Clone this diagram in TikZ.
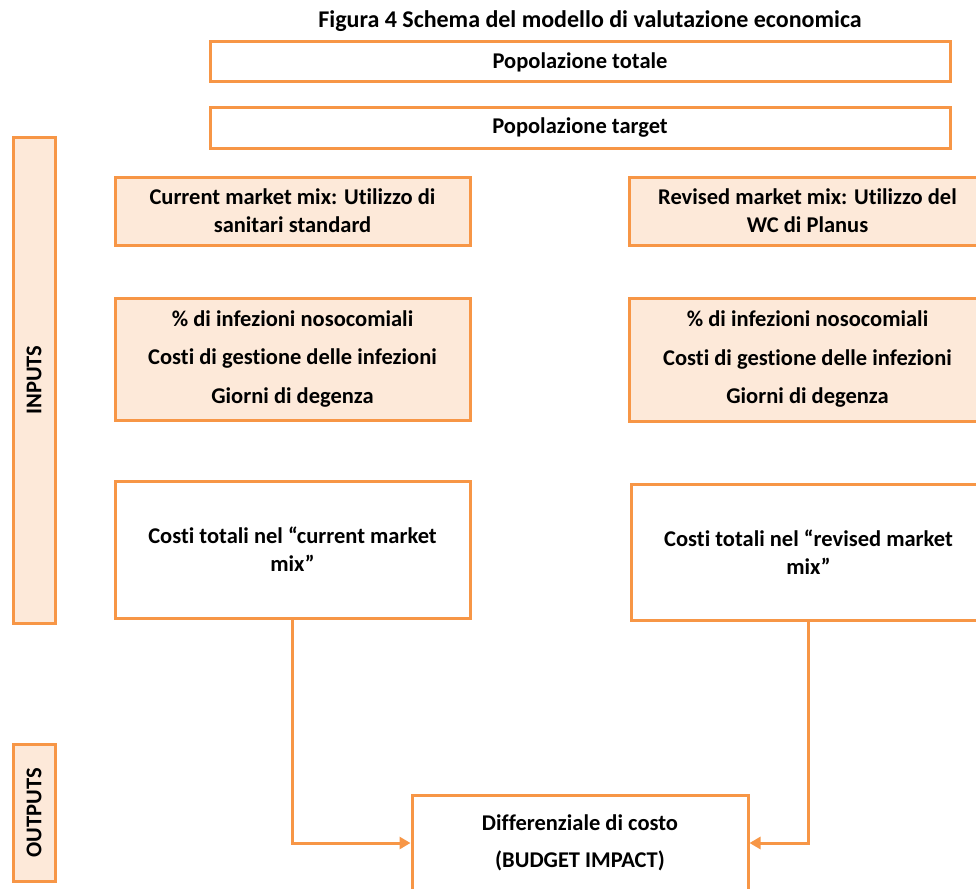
\documentclass[tikz,border=0pt]{standalone}
\usepackage{fontspec}
\setmainfont{Carlito}[Ligatures=NoCommon]
\usetikzlibrary{positioning,arrows.meta}
\definecolor{orangeline}{HTML}{F79646}
\definecolor{orangefill}{HTML}{FDE9D9}
\tikzset{>={Triangle[length=11pt,width=12pt]}}

\begin{document}
\begin{tikzpicture}[x=1pt, y=-1pt, font=\fontsize{22.5}{28}\selectfont\bfseries,
    box/.style={draw=orangeline, line width=3pt, fill=white, align=center, inner sep=0pt},
    filled/.style={box, fill=orangefill},
    link/.style={->, draw=orangeline, line width=3pt}]
    \clip (0,0) rectangle (976,888);
    \node[font=\fontsize{24}{28}\selectfont\bfseries] (title) at (590,21)
        {Figura 4 Schema del modello di valutazione economica};
    \node[box, minimum width=740pt, minimum height=40pt] (tot) at (580,62) {Popolazione totale};
    \node[box, minimum width=740pt, minimum height=40pt] (tgt) at (580,128) {Popolazione target};
    \node[filled, rotate=90, minimum width=486pt, minimum height=42pt] (inp) at (34,380) {INPUTS};
    \node[filled, rotate=90, minimum width=137pt, minimum height=42pt] (outp) at (34,813) {OUTPUTS};
    % current market mix
    \node[filled, minimum width=355pt, minimum height=68pt] (cur) at (292.5,211)
        {Current market mix: Utilizzo di\\sanitari standard};
    \node[filled, minimum width=355pt, minimum height=122pt] (infc) at (292.5,359)
        {\% di infezioni nosocomiali\\[10.5pt]Costi di gestione delle infezioni\\[10.5pt]Giorni di degenza};
    \node[box, minimum width=355pt, minimum height=137pt] (costc) at (292.5,549.5)
        {Costi totali nel “current market\\mix”};
    % revised market mix
    \node[filled, minimum width=357pt, minimum height=68pt] (rev) at (807.5,211)
        {Revised market mix: Utilizzo del\\WC di Planus};
    \node[filled, minimum width=357pt, minimum height=123pt] (infr) at (807.5,359.5)
        {\% di infezioni nosocomiali\\[10.5pt]Costi di gestione delle infezioni\\[10.5pt]Giorni di degenza};
    \node[box, minimum width=355pt, minimum height=136pt] (costr) at (808.5,552)
        {Costi totali nel “revised market\\mix”};
    \node[box, minimum width=336pt, minimum height=96pt] (diff) at (580,843)
        {Differenziale di costo\\[9pt](BUDGET IMPACT)};
    \draw[link] (costc.south) |- (diff.west);
    \draw[link] (costr.south) |- (diff.east);
\end{tikzpicture}
\end{document}
